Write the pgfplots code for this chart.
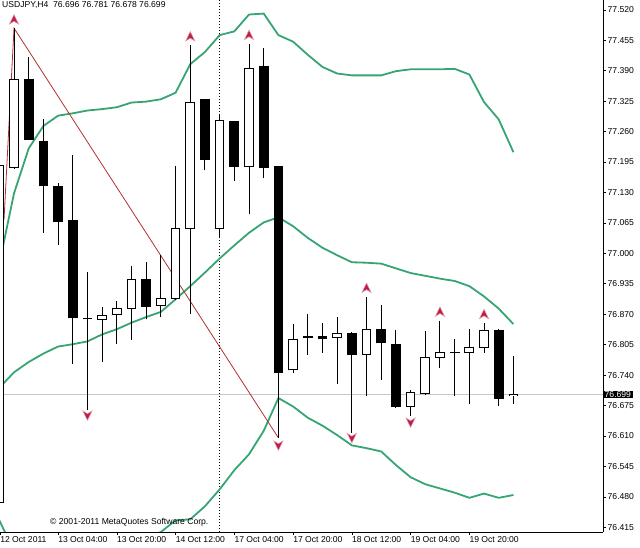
\documentclass[border=0pt]{standalone}
\usepackage{fontspec}
\setmainfont{Liberation Sans}
\usepackage{pgfplots}
\usepackage{pgfplotstable}
\pgfplotsset{compat=1.18}

\definecolor{bbgreen}{RGB}{55,165,115}
\definecolor{zzred}{RGB}{175,50,50}
\definecolor{fracred}{RGB}{190,30,70}
\newcommand\fs{\fontsize{8.6bp}{10bp}\selectfont}

% fractal arrows
\pgfdeclareplotmark{fup}{%
  \pgfpathmoveto{\pgfqpoint{0bp}{5bp}}%
  \pgfpathlineto{\pgfqpoint{4.6bp}{-4.5bp}}%
  \pgfpathlineto{\pgfqpoint{0bp}{-1.6bp}}%
  \pgfpathlineto{\pgfqpoint{-4.6bp}{-4.5bp}}%
  \pgfpathclose\pgfusepathqfillstroke}
\pgfdeclareplotmark{fdown}{%
  \pgfpathmoveto{\pgfqpoint{0bp}{-5bp}}%
  \pgfpathlineto{\pgfqpoint{4.6bp}{4.5bp}}%
  \pgfpathlineto{\pgfqpoint{0bp}{1.6bp}}%
  \pgfpathlineto{\pgfqpoint{-4.6bp}{4.5bp}}%
  \pgfpathclose\pgfusepathqfillstroke}

% USDJPY H4 candles: bar index, open, high, low, close
\pgfplotstableread{
i o h l c
-1 76.467 77.190 76.440 77.187
0 77.183 77.481 77.180 77.371
1 77.371 77.419 77.242 77.244
2 77.238 77.286 77.044 77.144
3 77.143 77.150 77.018 77.069
4 77.071 77.209 76.764 76.862
5 76.860 76.961 76.665 76.860
6 76.858 76.886 76.768 76.867
7 76.870 76.898 76.806 76.882
8 76.882 76.972 76.814 76.944
9 76.944 76.981 76.859 76.887
10 76.889 76.996 76.864 76.904
11 76.904 77.187 76.900 77.053
12 77.053 77.444 76.871 77.323
13 77.328 77.330 77.177 77.200
14 77.053 77.297 77.033 77.283
15 77.281 77.283 77.154 77.185
16 77.186 77.448 77.083 77.395
17 77.398 77.438 77.161 77.183
18 77.185 77.186 76.606 76.745
19 76.751 76.849 76.744 76.816
20 76.820 76.871 76.783 76.822
21 76.822 76.851 76.788 76.819
22 76.820 76.865 76.722 76.828
23 76.828 76.833 76.617 76.785
24 76.785 76.906 76.695 76.838
25 76.838 76.889 76.729 76.809
26 76.805 76.836 76.670 76.673
27 76.673 76.709 76.652 76.702
28 76.700 76.834 76.697 76.778
29 76.778 76.856 76.756 76.789
30 76.788 76.817 76.696 76.788
31 76.788 76.838 76.679 76.799
32 76.800 76.851 76.788 76.836
33 76.836 76.838 76.674 76.691
34 76.696 76.781 76.678 76.699
}\candles

% Bollinger bands
\pgfplotstableread{
i up mid lo
-1 76.978 76.713 76.430
0 77.128 76.746 76.364
1 77.224 76.768 76.312
2 77.272 76.786 76.300
3 77.294 76.801 76.308
4 77.299 76.806 76.313
5 77.305 76.812 76.319
6 77.308 76.827 76.346
7 77.312 76.838 76.364
8 77.322 76.852 76.382
9 77.324 76.864 76.392
10 77.329 76.875 76.405
11 77.343 76.902 76.430
12 77.404 76.930 76.432
13 77.430 76.959 76.460
14 77.466 76.989 76.496
15 77.474 77.017 76.537
16 77.510 77.044 76.571
17 77.512 77.066 76.621
18 77.466 77.077 76.691
19 77.452 77.058 76.673
20 77.424 77.033 76.649
21 77.398 77.012 76.632
22 77.384 76.996 76.612
23 77.380 76.981 76.590
24 77.380 76.980 76.584
25 77.380 76.978 76.577
26 77.389 76.968 76.548
27 77.393 76.958 76.522
28 77.393 76.952 76.507
29 77.393 76.946 76.498
30 77.394 76.941 76.489
31 77.382 76.930 76.478
32 77.323 76.908 76.487
33 77.286 76.882 76.478
34 77.216 76.849 76.484
}\bands

\begin{document}
\begin{tikzpicture}
\path[use as bounding box] (0,0) rectangle (640bp,548bp);
\begin{axis}[
  at={(0bp,16bp)}, anchor=south west,
  scale only axis, width=603bp, height=532bp,
  xmin=-0.954, xmax=40.1, ymin=76.405, ymax=77.541,
  axis x line*=bottom, axis y line*=right,
  x axis line style={-}, y axis line style={-},
  tick align=outside, major tick length=3bp,
  tick style={black, line width=0.6bp},
  xtick={-0.95,3,7,11,15,19,23,27,31},
  xticklabels={12 Oct 2011,13 Oct 04:00,13 Oct 20:00,14 Oct 12:00,17 Oct 04:00,17 Oct 20:00,18 Oct 12:00,19 Oct 04:00,19 Oct 20:00},
  ytick={76.415,76.480,76.545,76.610,76.675,76.740,76.805,76.870,76.935,77.000,77.065,77.130,77.195,77.260,77.325,77.390,77.455,77.520},
  scaled ticks=false,
  yticklabel style={font=\fs, anchor=west, inner sep=0pt, xshift=1.5bp,
    /pgf/number format/fixed, /pgf/number format/fixed zerofill,
    /pgf/number format/precision=3, /pgf/number format/assume math mode=true},
  xticklabel style={font=\fs, anchor=north west, inner sep=0pt, yshift=-1bp},
  candle/.style={draw=none, mark=none, error bars/.cd, y dir=plus, y explicit, error mark=none},
]
% bid line and day separator
\addplot[black!22, line width=0.8bp] coordinates {(-0.954,76.699) (40.1,76.699)};
\addplot[black, line width=0.8bp, dash pattern=on 1.2bp off 1.8bp] coordinates {(14,76.405) (14,77.541)};
% bands
\addplot[bbgreen, line width=1.8bp] table[x=i, y=up] {\bands};
\addplot[bbgreen, line width=1.8bp] table[x=i, y=mid] {\bands};
\addplot[bbgreen, line width=1.8bp] table[x=i, y=lo] {\bands};
% zigzag
\addplot[zzred, line width=0.8bp] coordinates {(-0.68,77.072) (0,77.481) (18,76.606)};
% wicks
\addplot[candle, error bar style={draw=black, line width=1bp}]
  table[x=i, y=l, y error plus expr={\thisrow{h}-\thisrow{l}}] {\candles};
% bodies
\addplot[candle, error bar style={draw=black, line width=9.7bp}]
  table[x=i, y expr={min(\thisrow{o},\thisrow{c})-0.00107},
        y error plus expr={abs(\thisrow{c}-\thisrow{o})+0.00214}] {\candles};
\addplot[restrict expr to domain={\thisrow{c}-\thisrow{o}}{0.0022:10},
  candle, error bar style={draw=white, line width=7.7bp}]
  table[x=i, y expr={\thisrow{o}+0.00107},
        y error plus expr={\thisrow{c}-\thisrow{o}-0.00214}] {\candles};
% fractals
\addplot[only marks, mark=fup, mark size=1, draw=fracred!45, fill=fracred, line width=0.5bp]
  coordinates {(0,77.499) (12,77.463) (16,77.466) (24,76.926) (29,76.875) (32,76.870)};
\addplot[only marks, mark=fdown, mark size=1, draw=fracred!45, fill=fracred, line width=0.5bp]
  coordinates {(5,76.654) (18,76.590) (23,76.606) (27,76.639)};
\coordinate (bid) at (axis cs:40.1,76.699);
\end{axis}
\node[fill=black, text=white, font=\fs, inner xsep=1.5bp, inner ysep=0.6bp, anchor=west] at (bid) {76.699};
\node[font=\fs, anchor=west, inner sep=0pt] at (2bp,543bp) {USDJPY,H4\ \ 76.696 76.781 76.678 76.699};
\node[font=\fs, anchor=west, inner sep=0pt] at (50bp,26bp) {© 2001-2011 MetaQuotes Software Corp.};
\end{tikzpicture}
\end{document}
